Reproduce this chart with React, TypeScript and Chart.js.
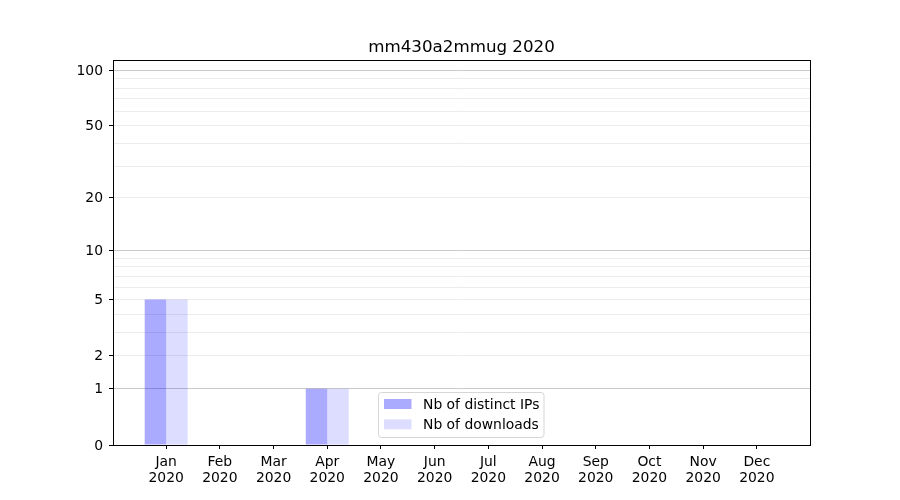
import React, { useEffect, useRef } from 'react';
import { Chart, LinearScale, registerables } from 'chart.js';

const TITLE = 'mm430a2mmug 2020';
const MONTHS = ['Jan', 'Feb', 'Mar', 'Apr', 'May', 'Jun', 'Jul', 'Aug', 'Sep', 'Oct', 'Nov', 'Dec'];
const YEAR = '2020';
const DISTINCT_IPS = [5, 0, 0, 1, 0, 0, 0, 0, 0, 0, 0, 0];
const DOWNLOADS = [5, 0, 0, 1, 0, 0, 0, 0, 0, 0, 0, 0];
const SERIES_LABELS = ['Nb of distinct IPs', 'Nb of downloads'];
const Y_LABELED_TICKS = [0, 1, 2, 5, 10, 20, 50, 100];
const Y_MINOR_TICKS = [3, 4, 6, 7, 8, 9, 30, 40, 60, 70, 80, 90];
const Y_MAJOR_GRID = [1, 10, 100];
const Y_MIN = 0;
const Y_MAX = 113.7;
const X_MIN = -0.99;
const X_MAX = 11.99;

const COLORS = ['rgba(0,0,255,0.333)', 'rgba(0,0,255,0.133)'];
const FONT = '"DejaVu Sans", sans-serif';
const FS = 13.9;

class Log1pScale extends LinearScale {
  static id = 'log1p';
  static defaults = {};
  determineDataLimits() {
    const o: any = this.options;
    this.min = o.min ?? Y_MIN;
    this.max = o.max ?? Y_MAX;
  }
  buildTicks() {
    const vals = [...Y_LABELED_TICKS, ...Y_MINOR_TICKS].sort((a, b) => a - b);
    return vals.map((v) => ({ value: v }));
  }
  t(v: number) {
    return Math.log10(v + 1);
  }
  getPixelForValue(value: number) {
    const lo = this.t(this.min);
    const hi = this.t(this.max);
    return this.getPixelForDecimal((this.t(value) - lo) / (hi - lo));
  }
  getValueForPixel(pixel: number) {
    const lo = this.t(this.min);
    const hi = this.t(this.max);
    const d = this.getDecimalForPixel(pixel);
    return Math.pow(10, lo + d * (hi - lo)) - 1;
  }
}

Chart.register(...registerables, Log1pScale as any);

const decorPlugin = {
  id: 'decor',
  afterDraw(chart: any) {
    const { ctx, chartArea } = chart;
    const { left, right, top, bottom } = chartArea;
    ctx.save();
    // title
    ctx.fillStyle = '#000';
    ctx.font = `16.7px ${FONT}`;
    ctx.textAlign = 'center';
    ctx.textBaseline = 'alphabetic';
    ctx.fillText(TITLE, (left + right) / 2, top - 8.5);

    // legend
    const lx = left + 265.5;
    const ly = bottom - 52.5;
    const lw = 165.5;
    const lh = 45;
    const r = 3;
    ctx.beginPath();
    ctx.moveTo(lx + r, ly);
    ctx.lineTo(lx + lw - r, ly);
    ctx.arcTo(lx + lw, ly, lx + lw, ly + r, r);
    ctx.lineTo(lx + lw, ly + lh - r);
    ctx.arcTo(lx + lw, ly + lh, lx + lw - r, ly + lh, r);
    ctx.lineTo(lx + r, ly + lh);
    ctx.arcTo(lx, ly + lh, lx, ly + lh - r, r);
    ctx.lineTo(lx, ly + r);
    ctx.arcTo(lx, ly, lx + r, ly, r);
    ctx.closePath();
    ctx.fillStyle = 'rgba(255,255,255,0.8)';
    ctx.fill();
    ctx.strokeStyle = 'rgba(204,204,204,0.8)';
    ctx.lineWidth = 1;
    ctx.stroke();

    ctx.font = `${FS}px ${FONT}`;
    ctx.textAlign = 'left';
    ctx.textBaseline = 'alphabetic';
    SERIES_LABELS.forEach((lab, i) => {
      const rowBase = ly + 16.5 + i * 20.3;
      ctx.fillStyle = COLORS[i];
      ctx.fillRect(lx + 5.5, rowBase - 10, 27.5, 10);
      ctx.fillStyle = '#000';
      ctx.fillText(lab, lx + 44.5, rowBase);
    });

    // frame
    ctx.strokeStyle = '#000';
    ctx.lineWidth = 1;
    ctx.strokeRect(left + 0.5, top + 0.5, right - left, bottom - top);
    ctx.restore();
  },
};

export default function App() {
  const ref = useRef<HTMLCanvasElement | null>(null);
  useEffect(() => {
    if (!ref.current) return;
    Chart.defaults.font.family = FONT;
    Chart.defaults.font.size = FS;
    Chart.defaults.color = '#000';
    const chart = new Chart(ref.current, {
      type: 'bar',
      data: {
        datasets: [
          {
            label: SERIES_LABELS[0],
            data: DISTINCT_IPS.map((v, i) => ({ x: i, y: v })),
            backgroundColor: COLORS[0],
            borderWidth: 0,
            categoryPercentage: 0.8,
            barPercentage: 1.0,
          },
          {
            label: SERIES_LABELS[1],
            data: DOWNLOADS.map((v, i) => ({ x: i, y: v })),
            backgroundColor: COLORS[1],
            borderWidth: 0,
            categoryPercentage: 0.8,
            barPercentage: 1.0,
          },
        ],
      } as any,
      options: {
        responsive: false,
        animation: false,
        layout: { padding: { top: 60, right: 90, left: 0, bottom: 0 } },
        plugins: {
          legend: { display: false },
          tooltip: { enabled: false },
          title: { display: false },
        },
        scales: {
          x: {
            type: 'linear',
            min: X_MIN,
            max: X_MAX,
            bounds: 'data',
            offset: false,
            grid: {
              display: true,
              offset: false,
              drawOnChartArea: false,
              drawTicks: true,
              tickLength: 4,
              tickColor: '#000',
              tickWidth: 1,
            },
            border: { display: false },
            afterBuildTicks: (scale: any) => {
              scale.ticks = MONTHS.map((_, i) => ({ value: i }));
            },
            afterFit: (scale: any) => {
              scale.height = 55;
            },
            ticks: {
              autoSkip: false,
              maxRotation: 0,
              minRotation: 0,
              padding: 5,
              color: '#000',
              font: { family: FONT, size: FS, lineHeight: 1.15 },
              callback: (v: any) => [MONTHS[Math.round(Number(v))], YEAR],
            },
          },
          y: {
            type: 'log1p' as any,
            min: Y_MIN,
            max: Y_MAX,
            grid: {
              display: true,
              drawOnChartArea: true,
              drawTicks: true,
              tickLength: 4,
              lineWidth: 1,
              color: (c: any) =>
                Y_MAJOR_GRID.includes(c.tick?.value) ? '#c9c9c9' : '#ececec',
              tickColor: (c: any) =>
                Y_LABELED_TICKS.includes(c.tick?.value) ? '#000' : 'rgba(0,0,0,0)',
              tickWidth: 1,
            },
            border: { display: false },
            afterFit: (scale: any) => {
              scale.width = 113;
            },
            ticks: {
              autoSkip: false,
              padding: 6,
              labelOffset: 1,
              color: '#000',
              font: { family: FONT, size: FS },
              callback: (v: any) => (Y_LABELED_TICKS.includes(Number(v)) ? String(v) : ''),
            },
          } as any,
        },
      },
      plugins: [decorPlugin],
    });
    return () => chart.destroy();
  }, []);
  return (
    <div style={{ position: 'absolute', left: 0, top: 0, width: 900, height: 500, background: '#fff' }}>
      <canvas ref={ref} width={900} height={500} style={{ display: 'block' }} />
    </div>
  );
}
